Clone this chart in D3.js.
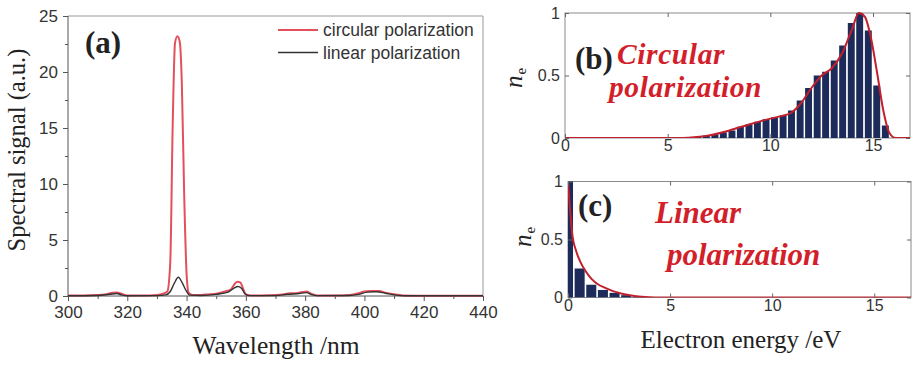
<!DOCTYPE html>
<html>
<head>
	<meta charset="utf-8">
	<title>Spectra and electron energy</title>
	<script src="https://d3js.org/d3.v7.min.js"></script>
	<style>
		html, body { margin: 0; background: #fff; }
		svg { display: block; }
	</style>
</head>
<body>
	<svg id="svg" width="915" height="366"></svg>
	<script>
		// panel (a): spectra
		const circWl  = [300, 305, 310, 313, 315, 316.5, 318, 320, 325, 330, 332, 333.5, 334.5, 335.3, 336.1, 336.9, 337.7, 338.4, 339.2, 340, 340.7, 342, 345, 350, 353, 355, 356.3, 357.2, 358.2, 359, 360, 362, 365, 370, 373, 375, 377, 379, 380.5, 382, 384, 390, 395, 398, 400, 402, 405, 407, 410, 413, 420, 440];
		const circVal = [0.05, 0.05, 0.08, 0.15, 0.3, 0.32, 0.2, 0.05, 0.05, 0.1, 0.2, 0.4, 3, 15, 22.6, 23.2, 22.7, 19, 9, 2, 0.3, 0.08, 0.1, 0.2, 0.4, 0.6, 1.1, 1.28, 1.2, 0.7, 0.15, 0.05, 0.05, 0.08, 0.15, 0.25, 0.25, 0.35, 0.4, 0.2, 0.05, 0.05, 0.1, 0.25, 0.4, 0.45, 0.45, 0.3, 0.15, 0.05, 0.03, 0.03];
		const linWl   = [300, 310, 314, 316.5, 318, 320, 330, 333, 334.5, 335.8, 337.2, 338.5, 339.8, 341, 345, 350, 354, 356, 357.3, 358.5, 359.7, 361, 370, 374, 378, 380.5, 382, 384, 395, 398, 401, 404, 407, 410, 414, 440];
		const linVal  = [0.02, 0.05, 0.15, 0.22, 0.1, 0.02, 0.03, 0.1, 0.4, 1.1, 1.67, 1.2, 0.5, 0.08, 0.05, 0.15, 0.35, 0.7, 0.85, 0.7, 0.2, 0.03, 0.03, 0.15, 0.22, 0.3, 0.15, 0.03, 0.05, 0.15, 0.35, 0.38, 0.25, 0.1, 0.02, 0.02];
		const wlTicks = [300, 320, 340, 360, 380, 400, 420, 440];
		const sigTicks = [0, 5, 10, 15, 20, 25];

		// panel (b): circular polarization histogram + fit
		const circBinWidth = 0.415;
		const circBins   = [6.05, 6.47, 6.88, 7.3, 7.71, 8.13, 8.54, 8.96, 9.37, 9.79, 10.2, 10.62, 11.03, 11.45, 11.86, 12.28, 12.69, 13.11, 13.52, 13.94, 14.35, 14.77, 15.18, 15.6];
		const circCounts = [0.005, 0.01, 0.02, 0.03, 0.045, 0.06, 0.09, 0.11, 0.13, 0.15, 0.165, 0.18, 0.22, 0.3, 0.4, 0.5, 0.53, 0.62, 0.74, 0.92, 1.0, 0.86, 0.42, 0.1];
		const circFitE = [0, 5.5, 6, 7, 8, 9, 10, 10.5, 11, 11.5, 12, 12.5, 13, 13.5, 14, 14.3, 14.6, 14.9, 15.2, 15.5, 15.8, 16.1, 16.8];
		const circFitN = [0, 0, 0.003, 0.02, 0.06, 0.11, 0.155, 0.175, 0.2, 0.28, 0.4, 0.5, 0.56, 0.68, 0.88, 1.0, 0.97, 0.8, 0.52, 0.22, 0.04, 0, 0];

		// panel (c): linear polarization histogram + fit
		const linBinWidth = 0.57;
		const linBins   = [0, 0.57, 1.14, 1.71, 2.28, 2.85, 3.42];
		const linCounts = [1.0, 0.25, 0.11, 0.065, 0.04, 0.02, 0.008];
		const linFitE = [0, 0.1, 0.2, 0.4, 0.6, 0.85, 1.15, 1.5, 1.8, 2.2, 2.6, 3.1, 3.6, 4.0, 4.5, 16.8];
		const linFitN = [1, 0.76, 0.56, 0.4, 0.31, 0.23, 0.16, 0.11, 0.085, 0.055, 0.035, 0.018, 0.007, 0.002, 0, 0];

		const energyTicks = [0, 5, 10, 15];
		const neTicks = [0, 0.5, 1];

		const svg = d3.select("#svg");
		const sans = "'Liberation Sans', Arial, sans-serif";
		const serif = "'Liberation Serif', 'Times New Roman', serif";
		const red = "#d21f2b";

		function styleAxis(g, color) {
			g.select(".domain").remove();
			g.selectAll("line").attr("stroke", color);
			g.selectAll("text").attr("font-family", sans).attr("font-size", 17).attr("fill", "#333");
		}

		// ---------- panel (a) ----------
		const xA = d3.scaleLinear().domain([300, 440]).range([68, 483]);
		const yA = d3.scaleLinear().domain([0, 25]).range([296, 16]);

		svg.append("line").attr("x1", 68).attr("x2", 483).attr("y1", 16).attr("y2", 16).attr("stroke", "#999");
		svg.append("line").attr("x1", 483).attr("x2", 483).attr("y1", 16).attr("y2", 296).attr("stroke", "#999");

		svg.append("g").attr("transform", "translate(0,296)")
			.call(d3.axisBottom(xA).tickValues(d3.range(310, 440, 20)).tickSize(3).tickFormat(""))
			.call(g => styleAxis(g, "#555"));
		svg.append("g").attr("transform", "translate(68,0)")
			.call(d3.axisLeft(yA).tickValues([2.5, 7.5, 12.5, 17.5, 22.5]).tickSize(3).tickFormat(""))
			.call(g => styleAxis(g, "#555"));
		svg.append("g").attr("transform", "translate(0,296)")
			.call(d3.axisBottom(xA).tickValues(wlTicks).tickSize(5).tickPadding(5))
			.call(g => styleAxis(g, "#555"));
		svg.append("g").attr("transform", "translate(68,0)")
			.call(d3.axisLeft(yA).tickValues(sigTicks).tickSize(5).tickPadding(5))
			.call(g => styleAxis(g, "#555"));
		svg.append("line").attr("x1", 68).attr("x2", 483).attr("y1", 296).attr("y2", 296).attr("stroke", "#555");
		svg.append("line").attr("x1", 68).attr("x2", 68).attr("y1", 16).attr("y2", 296).attr("stroke", "#555");

		const lineA = d3.line().curve(d3.curveMonotoneX).x(d => xA(d[0])).y(d => yA(d[1]));
		svg.append("path").attr("d", lineA(d3.zip(circWl, circVal)))
			.attr("fill", "none").attr("stroke", "#e2505b").attr("stroke-width", 2);
		svg.append("path").attr("d", lineA(d3.zip(linWl, linVal)))
			.attr("fill", "none").attr("stroke", "#333").attr("stroke-width", 1.4);

		// legend
		const legend = [["circular polarization", "#e2505b", 30], ["linear polarization", "#333", 52.5]];
		legend.forEach(([label, color, y]) => {
			svg.append("line").attr("x1", 278).attr("x2", 318).attr("y1", y).attr("y2", y)
				.attr("stroke", color).attr("stroke-width", color === "#333" ? 1.4 : 2);
			svg.append("text").attr("x", 323).attr("y", y + 6).text(label)
				.attr("font-family", sans).attr("font-size", 17.5).attr("fill", "#333");
		});

		svg.append("text").attr("x", 85).attr("y", 53).text("(a)")
			.attr("font-family", serif).attr("font-weight", "bold").attr("font-size", 31).attr("fill", "#222");
		svg.append("text").attr("transform", "translate(25,150) rotate(-90)").attr("text-anchor", "middle")
			.text("Spectral signal (a.u.)").attr("font-family", serif).attr("font-size", 24.5).attr("fill", "#222");
		svg.append("text").attr("x", 276).attr("y", 354).attr("text-anchor", "middle")
			.text("Wavelength /nm").attr("font-family", serif).attr("font-size", 25.5).attr("fill", "#222");

		// ---------- panels (b) and (c) ----------
		function histPanel(opts) {
			const x = d3.scaleLinear().domain([0, 16.8]).range([opts.left, opts.right]);
			const y = d3.scaleLinear().domain([0, 1]).range([opts.bottom, opts.top]);
			const id = "clip" + opts.name;
			svg.append("clipPath").attr("id", id).append("rect")
				.attr("x", opts.left).attr("y", opts.top - 2)
				.attr("width", opts.right - opts.left).attr("height", opts.bottom - opts.top + 2);

			const g = svg.append("g");
			g.append("rect").attr("x", opts.left).attr("y", opts.top)
				.attr("width", opts.right - opts.left).attr("height", opts.bottom - opts.top)
				.attr("fill", "#fff").attr("stroke", "#8a8a8a");

			const bw = x(opts.binWidth) - x(0);
			g.append("g").attr("clip-path", `url(#${id})`)
				.selectAll("rect").data(d3.zip(opts.bins, opts.counts)).join("rect")
				.attr("x", d => x(d[0] - opts.binWidth / 2) + 0.8)
				.attr("width", bw - 1.6)
				.attr("y", d => y(d[1]))
				.attr("height", d => y(0) - y(d[1]))
				.attr("fill", "#1d2b5b");

			const line = d3.line().curve(d3.curveMonotoneX).x(d => x(d[0])).y(d => y(d[1]));
			g.append("path").attr("clip-path", `url(#${id})`).attr("d", line(d3.zip(opts.fitE, opts.fitN)))
				.attr("fill", "none").attr("stroke", "#c2202c").attr("stroke-width", 2);

			// inward ticks on all sides
			g.append("g").attr("transform", `translate(0,${opts.bottom})`)
				.call(d3.axisBottom(x).tickValues(energyTicks).tickSizeInner(-4).tickSizeOuter(0).tickPadding(2).tickFormat(d3.format("d")))
				.call(a => styleAxis(a, "#666"));
			g.append("g").attr("transform", `translate(0,${opts.top})`)
				.call(d3.axisTop(x).tickValues(energyTicks).tickSizeInner(-4).tickSizeOuter(0).tickFormat(""))
				.call(a => styleAxis(a, "#666"));
			g.append("g").attr("transform", `translate(${opts.left},0)`)
				.call(d3.axisLeft(y).tickValues(neTicks).tickSizeInner(-4).tickSizeOuter(0).tickPadding(5).tickFormat(d => d === 0.5 ? "0.5" : d3.format("d")(d)))
				.call(a => styleAxis(a, "#666"));
			g.append("g").attr("transform", `translate(${opts.right},0)`)
				.call(d3.axisRight(y).tickValues(neTicks).tickSizeInner(-4).tickSizeOuter(0).tickFormat(""))
				.call(a => styleAxis(a, "#666"));
			g.selectAll("text").attr("font-size", 16);

			const ne = g.append("text")
				.attr("transform", `translate(${opts.neX},${opts.neY}) rotate(-90)`)
				.attr("text-anchor", "middle")
				.attr("font-family", serif).attr("font-size", 25).attr("fill", "#222");
			ne.append("tspan").attr("font-style", "italic").text("n");
			ne.append("tspan").attr("font-size", 15).attr("dy", 4).attr("dx", 1).text("e");

			g.append("text").attr("x", opts.left + 10).attr("y", opts.labelY).text(opts.label)
				.attr("font-family", serif).attr("font-weight", "bold").attr("font-size", 31).attr("fill", "#222");
			// the two red words
			opts.words.forEach(([w, wx, wy]) => {
				g.append("text").attr("x", wx).attr("y", wy).text(w)
					.attr("font-family", serif).attr("font-weight", "bold").attr("font-style", "italic")
					.attr("font-size", opts.wordSize).attr("letter-spacing", opts.wordSpacing).attr("fill", red);
			});
		}

		histPanel({
			name: "b", left: 565, right: 910, top: 13, bottom: 138,
			bins: circBins, counts: circCounts, binWidth: circBinWidth,
			fitE: circFitE, fitN: circFitN,
			neX: 522, neY: 78, label: "(b)", labelY: 69,
			wordSize: 29.5, wordSpacing: 0.6,
			words: [["Circular", 617, 64], ["polarization", 609, 97]]
		});
		histPanel({
			name: "c", left: 568, right: 911, top: 181.5, bottom: 297.5,
			bins: linBins, counts: linCounts, binWidth: linBinWidth,
			fitE: linFitE, fitN: linFitN,
			neX: 531, neY: 237, label: "(c)", labelY: 216,
			wordSize: 31, wordSpacing: 0,
			words: [["Linear", 655, 223], ["polarization", 667, 265]]
		});

		svg.append("text").attr("x", 741).attr("y", 348).attr("text-anchor", "middle")
			.text("Electron energy /eV").attr("font-family", serif).attr("font-size", 25).attr("fill", "#222");
	</script>
</body>
</html>
